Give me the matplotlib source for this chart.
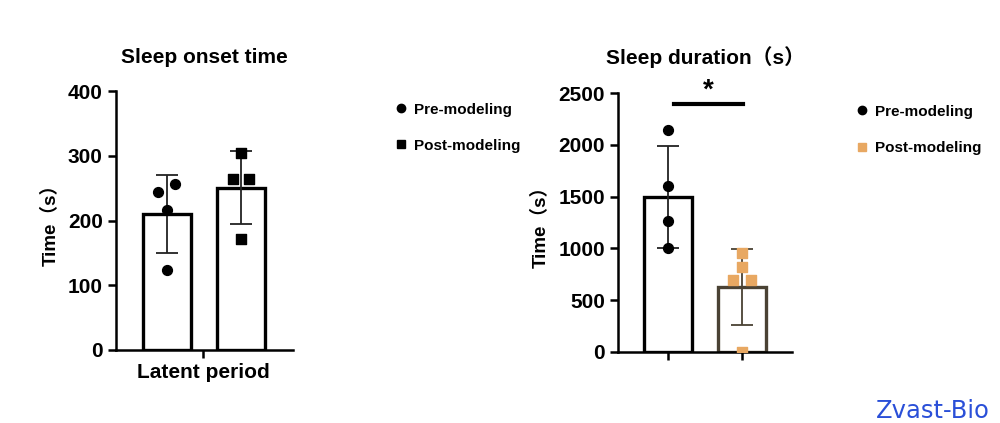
import matplotlib
matplotlib.use("Agg")
import matplotlib.pyplot as plt
from matplotlib.lines import Line2D

plt.rcParams['font.family'] = ['Liberation Sans', 'Noto Sans CJK SC', 'DejaVu Sans']
plt.rcParams['font.weight'] = 'bold'

# %% data
groups = ["Pre-modeling", "Post-modeling"]

onset_means = [210, 251]
onset_sd = [60, 56]
onset_pre = [244, 256, 216, 124]
onset_post = [304, 264, 264, 171]

dur_means = [1495, 628]
dur_sd = [495, 370]
dur_pre = [2140, 1600, 1260, 1000]
dur_post = [960, 820, 690, 690, 0]

orange = "#e8a862"
brown = "#4a4234"

fig = plt.figure(figsize=(10, 4.23), dpi=100)


def style_axis(ax):
    for s in ["top", "right"]:
        ax.spines[s].set_visible(False)
    for s in ["left", "bottom"]:
        ax.spines[s].set_linewidth(1.8)
    ax.tick_params(width=1.8, length=6, labelsize=15)
    for lbl in ax.get_yticklabels():
        lbl.set_fontweight('bold')


# %% left panel - sleep onset
ax1 = fig.add_axes([0.116, 0.1726, 0.177, 0.612])
xs = [0, 1]
ax1.bar(xs, onset_means, width=0.65, color="white", edgecolor="black", linewidth=2.4, zorder=1)
ax1.errorbar(xs, onset_means, yerr=onset_sd, fmt="none", ecolor="#222222", elinewidth=1.3,
             capsize=8, capthick=1.3, zorder=2)
ax1.scatter([-0.12, 0.10, 0, 0], onset_pre, marker="o", s=50, color="black", zorder=3)
ax1.scatter([1.0, 0.89, 1.11, 1.0], onset_post, marker="s", s=48, color="black", zorder=3)
ax1.set_ylim(0, 400)
ax1.set_yticks([0, 100, 200, 300, 400])
ax1.set_xlim(-0.69, 1.70)
ax1.set_xticks([0.49])
ax1.set_xticklabels(["Latent period"], fontsize=15, fontweight="bold")
ax1.set_ylabel("Time（s）", fontsize=13.5, fontweight="bold", labelpad=6)
ax1.set_title("Sleep onset time", fontsize=15, fontweight="bold", pad=20)
style_axis(ax1)

h1 = [Line2D([], [], marker="o", color="black", ls="none", markersize=6),
      Line2D([], [], marker="s", color="black", ls="none", markersize=6)]
fig.legend(h1, groups, loc="upper left", bbox_to_anchor=(0.381, 0.79), frameon=False,
           prop={"size": 11, "weight": "bold"}, labelspacing=1.45, handlelength=0.8,
           handletextpad=0.45)

# %% right panel - sleep duration
ax2 = fig.add_axes([0.618, 0.168, 0.174, 0.612])
ax2.bar(xs, dur_means, width=0.65, color="white", edgecolor=["black", brown], linewidth=2.4, zorder=1)
for x, m, sd, c in zip(xs, dur_means, dur_sd, ["#222222", brown]):
    ax2.errorbar([x], [m], yerr=[sd], fmt="none", ecolor=c, elinewidth=1.3,
                 capsize=8, capthick=1.3, zorder=2)
ax2.scatter([0, 0, 0, 0], dur_pre, marker="o", s=50, color="black", zorder=3)
ax2.scatter([1.0, 1.0, 0.88, 1.12, 1.0], dur_post, marker="s", s=48, color=orange, zorder=3)
ax2.set_ylim(0, 2500)
ax2.set_yticks([0, 500, 1000, 1500, 2000, 2500])
ax2.set_xlim(-0.68, 1.68)
ax2.set_xticks(xs)
ax2.set_xticklabels(["", ""])
ax2.set_ylabel("Time（s）", fontsize=13.5, fontweight="bold", labelpad=6)
ax2.set_title("Sleep duration（s）", fontsize=15, fontweight="bold", pad=21)
style_axis(ax2)
ax2.plot([0.08, 1.02], [2390, 2390], color="black", lw=3, clip_on=False)
ax2.text(0.55, 2400, "*", ha="center", va="bottom", fontsize=20, fontweight="bold")

h2 = [Line2D([], [], marker="o", color="black", ls="none", markersize=6),
      Line2D([], [], marker="s", color=orange, ls="none", markersize=6)]
fig.legend(h2, groups, loc="upper left", bbox_to_anchor=(0.842, 0.785), frameon=False,
           prop={"size": 11, "weight": "bold"}, labelspacing=1.45, handlelength=0.8,
           handletextpad=0.45)

fig.text(0.933, 0.0, "Zvast-Bio", ha="center", va="bottom", fontsize=17.5,
         color="#2a4fd8", fontweight="normal", family="DejaVu Sans")

fig.savefig("out.png", dpi=100, facecolor="white")
